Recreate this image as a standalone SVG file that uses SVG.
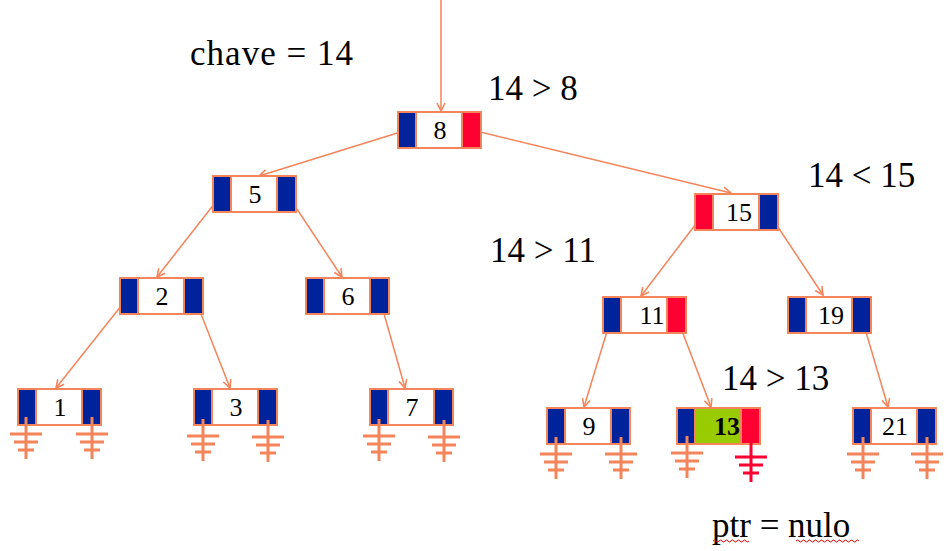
<svg xmlns="http://www.w3.org/2000/svg" width="949" height="551" viewBox="0 0 949 551">
<style>
.c{stroke:#F4845A;stroke-width:2}
.b{fill:#00239C}.r{fill:#FF0033}.w{fill:#FFFFFF}.g{fill:#99CC00}
.n{font-family:"Liberation Serif","Times New Roman",serif;font-size:26px;text-anchor:middle;fill:#000}
.lbl{font-family:"Liberation Serif","Times New Roman",serif;font-size:35px;fill:#000}
.e{stroke:#F4845A;stroke-width:1.5;fill:none}
.gnd{stroke:#F4845A;stroke-width:3;fill:none}
.gndr{stroke:#FF0033;stroke-width:3;fill:none}
</style>
<defs>
<marker id="ah" markerUnits="userSpaceOnUse" markerWidth="12" markerHeight="12" refX="9" refY="5" orient="auto">
<path d="M1,1 L9,5 L1,9" fill="none" stroke="#F4845A" stroke-width="1.6"/>
</marker>
<g id="gr"><path d="M0,0 V42 M-16,17 H16 M-12,25 H12 M-8,33 H8"/></g>
</defs>
<rect width="949" height="551" fill="#FFFFFF"/>

<g id="connectors">
<path class="e" marker-end="url(#ah)" d="M441,0 L441,111"/>
<path class="e" marker-end="url(#ah)" d="M407,130 L259,176"/>
<path class="e" marker-end="url(#ah)" d="M472,130 L731,193"/>
<path class="e" marker-end="url(#ah)" d="M222,194 L157,277"/>
<path class="e" marker-end="url(#ah)" d="M287,194 L342,277"/>
<path class="e" marker-end="url(#ah)" d="M705,212 L641,296"/>
<path class="e" marker-end="url(#ah)" d="M768,212 L823,295"/>
<path class="e" marker-end="url(#ah)" d="M129,296 L56,388"/>
<path class="e" marker-end="url(#ah)" d="M194,296 L230,388"/>
<path class="e" marker-end="url(#ah)" d="M379,296 L405,388"/>
<path class="e" marker-end="url(#ah)" d="M612,315 L584,407"/>
<path class="e" marker-end="url(#ah)" d="M676,315 L711,407"/>
<path class="e" marker-end="url(#ah)" d="M861,315 L888,407"/>
</g>

<g id="node8"><rect class="c b" x="398" y="112" width="18" height="36"/><rect class="c w" x="416" y="112" width="46" height="36"/><rect class="c r" x="462" y="112" width="19" height="36"/><text class="n" x="440" y="139">8</text></g>
<g id="node5"><rect class="c b" x="213" y="176" width="18" height="36"/><rect class="c w" x="231" y="176" width="46" height="36"/><rect class="c b" x="277" y="176" width="19" height="36"/><text class="n" x="255" y="203">5</text></g>
<g id="node15"><rect class="c r" x="695" y="194" width="18" height="36"/><rect class="c w" x="713" y="194" width="46" height="36"/><rect class="c b" x="759" y="194" width="19" height="36"/><text class="n" x="739" y="221">15</text></g>
<g id="node2"><rect class="c b" x="120" y="278" width="18" height="36"/><rect class="c w" x="138" y="278" width="46" height="36"/><rect class="c b" x="184" y="278" width="19" height="36"/><text class="n" x="162" y="305">2</text></g>
<g id="node6"><rect class="c b" x="306" y="278" width="18" height="36"/><rect class="c w" x="324" y="278" width="46" height="36"/><rect class="c b" x="370" y="278" width="19" height="36"/><text class="n" x="348" y="305">6</text></g>
<g id="node11"><rect class="c b" x="603" y="297" width="18" height="36"/><rect class="c w" x="621" y="297" width="46" height="36"/><rect class="c r" x="667" y="297" width="19" height="36"/><text class="n" x="652" y="324">11</text></g>
<g id="node19"><rect class="c b" x="788" y="297" width="18" height="36"/><rect class="c w" x="806" y="297" width="46" height="36"/><rect class="c b" x="852" y="297" width="19" height="36"/><text class="n" x="831" y="324">19</text></g>

<g id="node1"><rect class="c b" x="18" y="389" width="18" height="36"/><rect class="c w" x="36" y="389" width="46" height="36"/><rect class="c b" x="82" y="389" width="19" height="36"/><text class="n" x="60" y="416">1</text>
<use href="#gr" class="gnd" x="26" y="417"/><use href="#gr" class="gnd" x="92" y="417"/></g>
<g id="node3"><rect class="c b" x="194" y="389" width="18" height="36"/><rect class="c w" x="212" y="389" width="46" height="36"/><rect class="c b" x="258" y="389" width="19" height="36"/><text class="n" x="236" y="416">3</text>
<use href="#gr" class="gnd" x="203" y="419"/><use href="#gr" class="gnd" x="268" y="420"/></g>
<g id="node7"><rect class="c b" x="370" y="389" width="18" height="36"/><rect class="c w" x="388" y="389" width="46" height="36"/><rect class="c b" x="434" y="389" width="19" height="36"/><text class="n" x="412" y="416">7</text>
<use href="#gr" class="gnd" x="379" y="419"/><use href="#gr" class="gnd" x="444" y="420"/></g>
<g id="node9"><rect class="c b" x="547" y="408" width="18" height="36"/><rect class="c w" x="565" y="408" width="46" height="36"/><rect class="c b" x="611" y="408" width="19" height="36"/><text class="n" x="589" y="435">9</text>
<use href="#gr" class="gnd" x="556" y="437"/><use href="#gr" class="gnd" x="621" y="437"/></g>
<g id="node13"><rect class="c b" x="677" y="408" width="18" height="36"/><rect class="c g" x="695" y="408" width="46" height="36"/><rect class="c r" x="741" y="408" width="19" height="36"/><text class="n" x="727" y="435" font-weight="bold">13</text>
<use href="#gr" class="gnd" x="687" y="436"/><use href="#gr" class="gndr" x="751" y="440"/></g>
<g id="node21"><rect class="c b" x="853" y="408" width="18" height="36"/><rect class="c w" x="871" y="408" width="46" height="36"/><rect class="c b" x="917" y="408" width="19" height="36"/><text class="n" x="895" y="435">21</text>
<use href="#gr" class="gnd" x="863" y="437"/><use href="#gr" class="gnd" x="927" y="437"/></g>

<g id="labels">
<text class="lbl" x="190" y="65" textLength="163">chave = 14</text>
<text class="lbl" x="488" y="100">14 &gt; 8</text>
<text class="lbl" x="808" y="187">14 &lt; 15</text>
<text class="lbl" x="490" y="262">14 &gt; 11</text>
<text class="lbl" x="722" y="390">14 &gt; 13</text>
<text class="lbl" x="712" y="537">ptr = nulo</text>
<path d="M713,541 q1.5,-2 3,0 t3,0 t3,0 t3,0 t3,0 t3,0 t3,0 t3,0 t3,0 t3,0 t3,0 t3,0" fill="none" stroke="#E00000" stroke-width="1"/>
<path d="M796,541 q1.5,-2 3,0 t3,0 t3,0 t3,0 t3,0 t3,0 t3,0 t3,0 t3,0 t3,0 t3,0 t3,0 t3,0 t3,0 t3,0 t3,0 t3,0 t3,0 t3,0 t3,0 t3,0" fill="none" stroke="#E00000" stroke-width="1"/>
</g>
</svg>
